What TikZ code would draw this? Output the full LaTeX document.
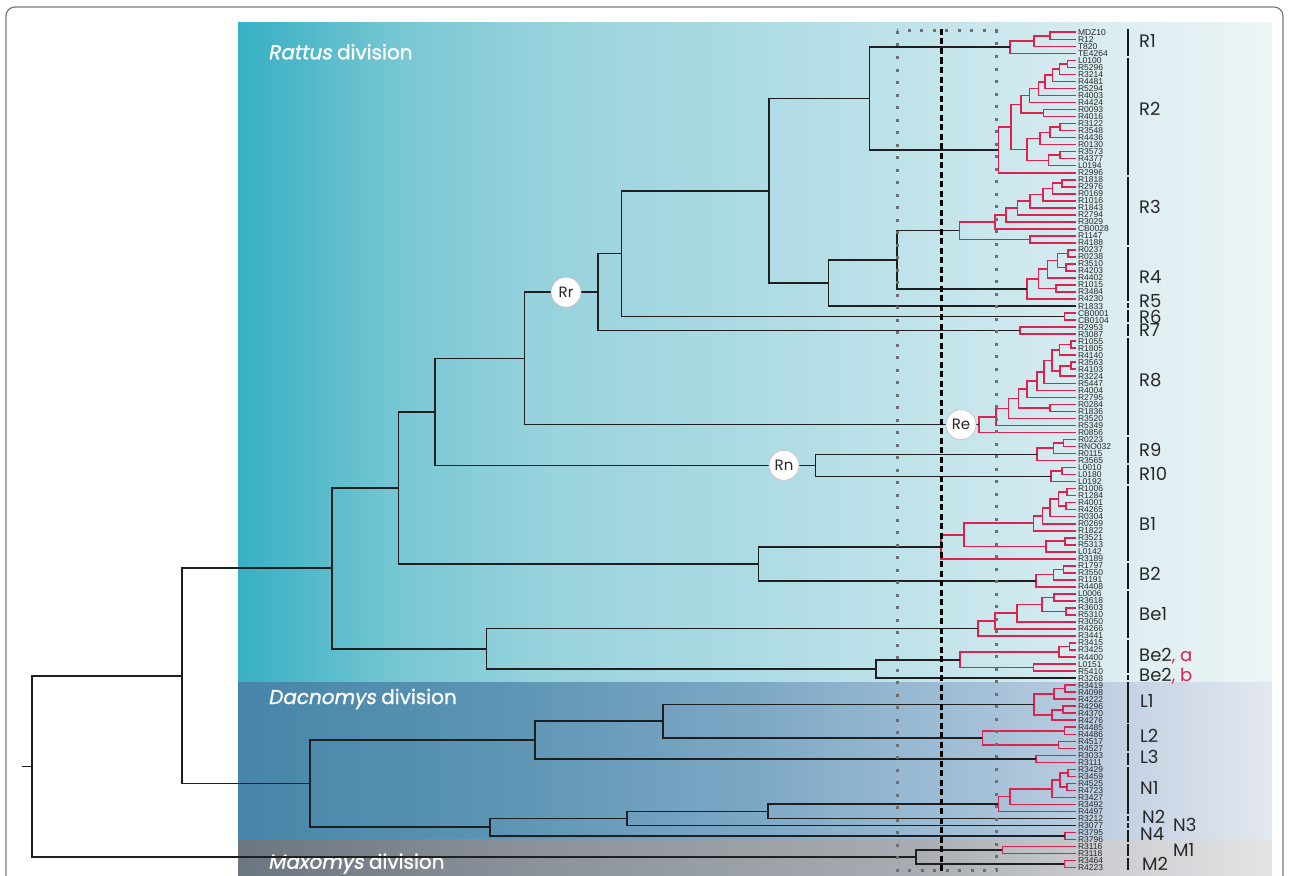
\documentclass[tikz,border=0pt]{standalone}
\usepackage{fontspec}
\setmainfont{Liberation Sans}
\newfontfamily\pop{Poppins}
\newfontfamily\popb[FakeBold=1.2]{Poppins}
\newfontfamily\popit[FakeSlant=0.18,FakeBold=1.2]{Poppins}
\usetikzlibrary{calc}
\definecolor{cred}{RGB}{222,34,80}
\definecolor{txtg}{RGB}{40,40,40}
\definecolor{dotg}{RGB}{110,110,110}
\definecolor{frameg}{RGB}{120,120,120}
\pgfdeclarehorizontalshading{ratsh}{100bp}{rgb(0bp)=(.220,.690,.769); rgb(25bp)=(.220,.690,.769); rgb(28bp)=(.306,.722,.788); rgb(32.85bp)=(.471,.780,.827); rgb(40bp)=(.596,.827,.867); rgb(49.75bp)=(.675,.859,.894); rgb(61.85bp)=(.796,.906,.929); rgb(69bp)=(.878,.937,.949); rgb(75bp)=(.933,.957,.965); rgb(100bp)=(.933,.957,.965)}
\pgfdeclarehorizontalshading{dacsh}{100bp}{rgb(0bp)=(.275,.525,.659); rgb(25bp)=(.275,.525,.659); rgb(37.5bp)=(.361,.580,.706); rgb(50bp)=(.490,.659,.773); rgb(62.5bp)=(.667,.769,.855); rgb(70bp)=(.804,.847,.902); rgb(75bp)=(.894,.910,.933); rgb(100bp)=(.894,.910,.933)}
\pgfdeclarehorizontalshading{maxsh}{100bp}{rgb(0bp)=(.424,.463,.502); rgb(25bp)=(.424,.463,.502); rgb(40bp)=(.549,.576,.608); rgb(57.5bp)=(.659,.675,.698); rgb(67.5bp)=(.804,.812,.824); rgb(75bp)=(.894,.894,.902); rgb(100bp)=(.894,.894,.902)}
% join two children (#4,#5) at a node named #2 with x=#3
\newcommand\tj[5][redbr]{%
  \path let \p1=(#4), \p2=(#5) in coordinate (#2) at (#3pt,{0.5*\y1+0.5*\y2});%
  \draw[#1] (#4) -| (#2) |- (#5);%
}
\newcommand\cbar[2]{%
  \draw[cbarst] ($(bx|-#1)+(0,-2.8)$) -- ($(bx|-#2)+(0,2.3)$);%
}
\begin{document}
\begin{tikzpicture}[x=1pt,y=-1pt,
  leaf/.style={anchor=west,inner xsep=2.5pt,inner ysep=0pt,outer sep=0pt,font=\fontsize{8.5}{8.5}\selectfont,text=txtg},
  redbr/.style={draw=cred,line width=1.6pt},
  blkbr/.style={draw=black!88,line width=1.6pt},
  cbarst/.style={draw=black!90,line width=2.6pt},
  clab/.style={anchor=base west,inner sep=0pt,font=\pop\fontsize{18}{18}\selectfont,text=txtg},
  circ/.style={circle,fill=white,draw=black!25,line width=0.6pt,minimum size=30pt,inner sep=0pt,font=\pop\fontsize{15}{15}\selectfont,text=txtg},
  divt/.style={anchor=base west,inner sep=0pt,text=white,font=\popb\fontsize{20}{20}\selectfont},
  dotln/.style={draw=dotg,line width=3pt,dash pattern=on 3pt off 9.5pt},
  dashln/.style={draw=black,line width=3pt,dash pattern=on 6pt off 3.5pt},
  framest/.style={draw=frameg,line width=1.2pt,rounded corners=9pt}
]
\useasboundingbox (0,0) rectangle (1289,875);
% backgrounds
\coordinate (rA) at (238,23); \coordinate (rB) at (1272,682);
\coordinate (dA) at (238,682); \coordinate (dB) at (1272,839);
\coordinate (mA) at (238,839); \coordinate (mB) at (1272,875);
\shade[shading=ratsh] (rA) rectangle (rB);
\shade[shading=dacsh] (dA) rectangle (dB);
\shade[shading=maxsh] (mA) rectangle (mB);
% frame
\coordinate (f1) at (6,876); \coordinate (f2) at (6,7);
\coordinate (f3) at (1283,7); \coordinate (f4) at (1283,876);
\draw[framest] (f1) -- (f2) -- (f3) -- (f4);
% division titles
\node[divt] (tRat) at (268,59.3) {{\popit Rattus} division};
\node[divt] (tDac) at (268,704) {{\popit Dacnomys} division};
\node[divt] (tMax) at (268,868.7) {{\popit Maxomys} division};
% leaves
\foreach \nm [count=\i from 0] in {MDZ10,R12,T820,TE4264,
L0100,R5296,R3214,R4481,R5294,R4003,R4424,R0093,R4016,R3122,R3548,R4436,R0130,R3573,R4377,L0194,R2996,
R1818,R2976,R0169,R1016,R1843,R2794,R3029,CB0028,R1147,R4188,
R0237,R0238,R3510,R4203,R4402,R1015,R3484,R4230,
R1833,
CB0001,CB0104,
R2953,R3087,
R1055,R1805,R4140,R3563,R4103,R3224,R5447,R4004,R2795,R0284,R1836,R3520,R5349,R0856,
R0223,RNO032,R0115,R3565,
L0010,L0180,L0192,
R1006,R1284,R4001,R4265,R0304,R0269,R1822,R3521,R5313,L0142,R3189,
R1797,R3550,R1191,R4408,
L0006,R3618,R3603,R5310,R3050,R4266,R3441,
R3415,R3425,R4400,L0151,R5410,
R3268,
R3419,R4098,R4222,R4296,R4370,R4276,
R4485,R4486,R4517,R4527,
R3033,R3111,
R3429,R3459,R4525,R4723,R3427,R3492,R4497,
R3212,
R3077,
R3795,R3796,
R3116,R3118,
R3464,R4223}{
  \node[leaf] (\nm) at (1075.5,{32.3+7.02*\i}) {\nm};
}
% ---- clades (red) ----
% R1
\tj{r1a}{1050}{MDZ10}{R12}
\tj{r1b}{1034}{r1a}{T820}
\tj{r1}{1010}{r1b}{TE4264}
% R2
\tj{r2a}{1067.3}{L0100}{R5296}
\tj{r2b}{1059.3}{r2a}{R3214}
\tj{r2c}{1052.3}{r2b}{R4481}
\tj{r2d}{1045}{r2c}{R5294}
\tj{r2e}{1038.3}{r2d}{R4003}
\tj{r2f}{1029.3}{r2e}{R4424}
\tj{r2g}{1043.3}{R0093}{R4016}
\tj{r2h}{1021}{r2f}{r2g}
\tj{r2i}{1060}{R3122}{R3548}
\tj{r2j}{1050}{r2i}{R4436}
\tj{r2k}{1040}{r2j}{R0130}
\tj{r2l}{1060}{R3573}{R4377}
\tj{r2m}{1048.3}{r2l}{L0194}
\tj{r2n}{1026.7}{r2k}{r2m}
\tj{r2o}{1011}{r2h}{r2n}
\tj{r2}{998.3}{r2o}{R2996}
% R3
\tj{r3a}{1061.7}{R1818}{R2976}
\tj{r3b}{1052.3}{r3a}{R0169}
\tj{r3c}{1042.7}{r3b}{R1016}
\tj{r3d}{1030}{r3c}{R1843}
\tj{r3e}{1017.3}{r3d}{R2794}
\tj{r3f}{1006}{r3e}{R3029}
\tj{r3g}{995}{r3f}{CB0028}
\tj{r3h}{1030}{R1147}{R4188}
\tj{r3}{959.3}{r3g}{r3h}
% R4
\tj{r4a}{1068}{R0237}{R0238}
\tj{r4b}{1065.7}{R3510}{R4203}
\tj{r4c}{1057.3}{r4a}{r4b}
\tj{r4d}{1047.3}{r4c}{R4402}
\tj{r4e}{1055.7}{R1015}{R3484}
\tj{r4f}{1038.3}{r4d}{r4e}
\tj{r4}{1026.7}{r4f}{R4230}
% R6, R7
\tj{r6}{1064.3}{CB0001}{CB0104}
\tj{r7}{1020}{R2953}{R3087}
% R8
\tj{r8a}{1071}{R1055}{R1805}
\tj{r8b}{1059.3}{r8a}{R4140}
\tj{r8c}{1071}{R3563}{R4103}
\tj{r8d}{1060}{r8c}{R3224}
\tj{r8e}{1051.7}{r8b}{r8d}
\tj{r8f}{1044}{r8e}{R5447}
\tj{r8g}{1036.7}{r8f}{R4004}
\tj{r8h}{1026.7}{r8g}{R2795}
\tj{r8i}{1050}{R0284}{R1836}
\tj{r8j}{1018.3}{r8h}{r8i}
\tj{r8k}{1008.3}{r8j}{R3520}
\tj{r8l}{996}{r8k}{R5349}
\tj{r8}{979}{r8l}{R0856}
% R9, R10
\tj{r9a}{1063.3}{R0223}{RNO032}
\tj{r9b}{1053.3}{r9a}{R0115}
\tj{r9}{1036.7}{r9b}{R3565}
\tj{r10a}{1061.7}{L0010}{L0180}
\tj{r10}{1050.7}{r10a}{L0192}
% B1
\tj{b1a}{1066.7}{R1006}{R1284}
\tj{b1b}{1065.7}{R4001}{R4265}
\tj{b1c}{1058.3}{b1a}{b1b}
\tj{b1d}{1050}{b1c}{R0304}
\tj{b1e}{1042.3}{b1d}{R0269}
\tj{b1f}{1033.3}{b1e}{R1822}
\tj{b1g}{1065}{R3521}{R5313}
\tj{b1h}{1045.7}{b1g}{L0142}
\tj{b1i}{964}{b1f}{b1h}
\tj{b1}{941}{b1i}{R3189}
% B2
\tj{b2a}{1063.3}{R1797}{R3550}
\tj{b2b}{1053.3}{b2a}{R1191}
\tj{b2}{1035.7}{b2b}{R4408}
% Be1
\tj{e1a}{1054}{L0006}{R3618}
\tj{e1b}{1065.7}{R3603}{R5310}
\tj{e1c}{1041.7}{e1a}{e1b}
\tj{e1d}{1016.7}{e1c}{R3050}
\tj{e1e}{995}{e1d}{R4266}
\tj{e1}{977.7}{e1e}{R3441}
% Be2 a
\tj{e2a}{1069.3}{R3415}{R3425}
\tj{e2b}{1059}{e2a}{R4400}
\tj{e2c}{1033.3}{L0151}{R5410}
\tj{e2}{960}{e2b}{e2c}
% L1, L2, L3
\tj{l1a}{1065}{R3419}{R4098}
\tj{l1b}{1054}{l1a}{R4222}
\tj{l1c}{1062.7}{R4296}{R4370}
\tj{l1d}{1051.7}{l1c}{R4276}
\tj{l1}{1033.7}{l1b}{l1d}
\tj{l2a}{1064.3}{R4485}{R4486}
\tj{l2b}{1058.3}{R4517}{R4527}
\tj{l2}{982.3}{l2a}{l2b}
\tj{l3}{1035.7}{R3033}{R3111}
% N1, N4
\tj{n1a}{1067.7}{R3429}{R3459}
\tj{n1b}{1067}{R4525}{R4723}
\tj{n1c}{1060}{n1a}{n1b}
\tj{n1d}{1051.7}{n1c}{R3427}
\tj{n1e}{1010}{n1d}{R3492}
\tj{n1}{998.3}{n1e}{R4497}
\tj{n4}{1065}{R3795}{R3796}
% M1, M2
\tj{m1}{1002.3}{R3116}{R3118}
\tj{m2}{1064.3}{R3464}{R4223}
% ---- backbone (black) ----
\tj[blkbr]{a869}{869.5}{r1}{r2}
\tj[blkbr]{a897}{897}{r3}{r4}
\tj[blkbr]{a828}{828.5}{a897}{R1833}
\tj[blkbr]{a769}{769}{a869}{a828}
\tj[blkbr]{a621}{621.5}{a769}{r6}
\tj[blkbr]{a597}{597.7}{a621}{r7}
\tj[blkbr]{a524}{524.6}{a597}{r8}
\tj[blkbr]{a815}{815.5}{r9}{r10}
\tj[blkbr]{a435}{435}{a524}{a815}
\tj[blkbr]{a758}{758.5}{b1}{b2}
\tj[blkbr]{a398}{398.4}{a435}{a758}
\tj[blkbr]{a876}{876}{e2}{R3268}
\tj[blkbr]{a486}{486.4}{e1}{a876}
\tj[blkbr]{rat}{332}{a398}{a486}
\tj[blkbr]{d663}{663}{l1}{l2}
\tj[blkbr]{d535}{535}{d663}{l3}
\tj[blkbr]{d768}{768}{n1}{R3212}
\tj[blkbr]{d627}{627}{d768}{R3077}
\tj[blkbr]{d490}{490}{d627}{n4}
\tj[blkbr]{dac}{310}{d535}{d490}
\tj[blkbr]{p1}{182}{rat}{dac}
\tj[blkbr]{mx}{916}{m1}{m2}
\tj[blkbr]{root}{32}{p1}{mx}
\coordinate (stub) at ($(root)+(-10,0)$);
\draw[blkbr] (root) -- (stub);
% ---- clade bars ----
\coordinate (bx) at (1128,0);
\cbar{MDZ10}{TE4264}
\cbar{L0100}{R2996}
\cbar{R1818}{R4188}
\cbar{R0237}{R4230}
\cbar{R1833}{R1833}
\cbar{CB0001}{CB0104}
\cbar{R2953}{R3087}
\cbar{R1055}{R0856}
\cbar{R0223}{R3565}
\cbar{L0010}{L0192}
\cbar{R1006}{R3189}
\cbar{R1797}{R4408}
\cbar{L0006}{R3441}
\cbar{R3415}{R5410}
\cbar{R3268}{R3268}
\cbar{R3419}{R4276}
\cbar{R4485}{R4527}
\cbar{R3033}{R3111}
\cbar{R3429}{R4497}
\cbar{R3212}{R3212}
\cbar{R3077}{R3077}
\cbar{R3795}{R3796}
\cbar{R3116}{R3118}
\cbar{R3464}{R4223}
% ---- clade labels ----
\node[clab] (cR1) at (1139,47.3) {R1};
\node[clab] (cR2) at (1139,115.7) {R2};
\node[clab] (cR3) at (1139,213.3) {R3};
\node[clab] (cR4) at (1139,283.3) {R4};
\node[clab] (cR5) at (1139,307.3) {R5};
\node[clab] (cR6) at (1139,323.3) {R6};
\node[clab] (cR7) at (1139,336.7) {R7};
\node[clab] (cR8) at (1139,386.7) {R8};
\node[clab] (cR9) at (1139,456) {R9};
\node[clab] (cR10) at (1139,480.7) {R10};
\node[clab] (cB1) at (1139,530.7) {B1};
\node[clab] (cB2) at (1139,580.7) {B2};
\node[clab] (cBe1) at (1139,620) {Be1};
\node[clab] (cBe2a) at (1139,661.7) {Be2\textcolor{cred}{, a}};
\node[clab] (cBe2b) at (1139,681.7) {Be2\textcolor{cred}{, b}};
\node[clab] (cL1) at (1140,707.3) {L1};
\node[clab] (cL2) at (1140,742.7) {L2};
\node[clab] (cL3) at (1140,763.3) {L3};
\node[clab] (cN1) at (1140,794) {N1};
\node[clab] (cN2) at (1142,823.3) {N2};
\node[clab] (cN3) at (1173,831.7) {N3};
\node[clab] (cN4) at (1140,840) {N4};
\node[clab] (cM1) at (1173,856.7) {M1};
\node[clab] (cM2) at (1142,870.7) {M2};
% ---- dotted box and dashed line ----
\coordinate (bxA) at (897,31); \coordinate (bxB) at (996,870);
\draw[dotln] (bxA) rectangle (bxB);
\coordinate (dT) at (941,29); \coordinate (dBt) at (941,873);
\draw[dashln] (dT) -- (dBt);
% ---- node circles ----
\path let \p1=(a597) in node[circ] (Rr) at (566pt,\y1) {Rr};
\path let \p1=(a815) in node[circ] (Rn) at (784pt,\y1) {Rn};
\path let \p1=(r8) in node[circ] (Re) at (961pt,\y1) {Re};
\end{tikzpicture}
\end{document}
